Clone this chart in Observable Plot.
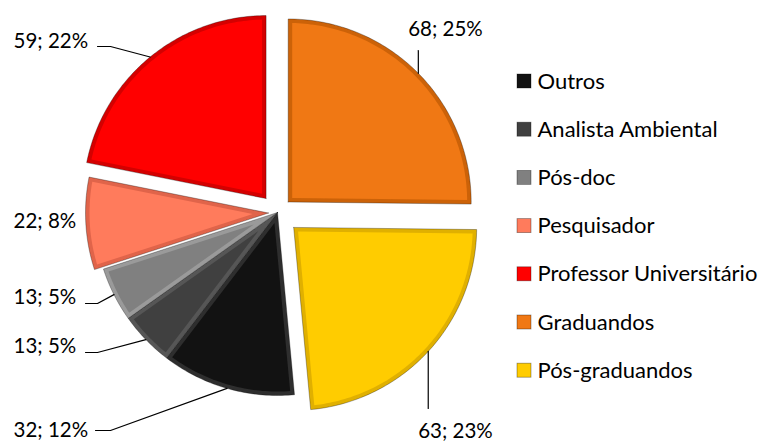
<!DOCTYPE html>
<html><head><meta charset="utf-8">
<script src="https://cdn.jsdelivr.net/npm/d3@7"></script>
<script src="https://cdn.jsdelivr.net/npm/@observablehq/plot@0.6"></script>
<style>body{margin:0;background:#fff;}</style>
</head><body><div id="chart"></div>
<script>
// ---- data ----
const categories = ["Outros","Analista Ambiental","Pós-doc","Pesquisador","Professor Universitário","Graduandos","Pós-graduandos"];
const counts = [32,13,13,22,59,68,63];

// ---- styles ----
const colors = ["#121212","#404040","#808080","#FF7B5C","#FF0000","#F07814","#FFCC00"];
const rimColors = ["#2e2e2e","#565656","#9a9a9a","#E0644A","#D40000","#CC6208","#E0B000"];
const explode = [0,0,0,9,18,15,22];

// ---- layout ----
const W = 763, H = 441, cx = 277, cy = 212, R = 183, bevel = 4;
const labelLayout = {
  "Outros":                 {x:13,  y:430, anchor:"start", leader:[[110,430],[95,430]]},
  "Analista Ambiental":     {x:13,  y:346, anchor:"start", leader:[[97,352],[85,352]]},
  "Pós-doc":                {x:13,  y:297, anchor:"start", leader:[[97,303],[85,303]]},
  "Pesquisador":            {x:13,  y:221, anchor:"start", leader:null},
  "Professor Universitário":{x:13,  y:41,  anchor:"start", leader:[[110,46],[97,46]]},
  "Graduandos":             {x:445, y:29,  anchor:"middle", leader:[["arc",50]]},
  "Pós-graduandos":         {x:455, y:431, anchor:"middle", leader:[["arc",408]]}
};
const legendX = 517, legendY0 = 81, legendStep = 48.2, box = 14;

const total = d3.sum(counts);
// first slice (Outros) starts after the last two slices, which wrap past 12 o'clock
const a0 = (counts[5] + counts[6]) / total * 2 * Math.PI;
const arcs = d3.pie().sort(null).startAngle(a0).endAngle(a0 + 2 * Math.PI)(counts);

const slicePts = [], innerPts = [], leaderPts = [], labels = [];
// wedge: apex (px,py), arc centered at (ox,oy) with radius r from angle s to e
function wedge(out, cat, px, py, ox, oy, r, s, e) {
  out.push({cat, x: px, y: py});
  const n = Math.max(4, Math.ceil((e - s) / (Math.PI / 180)));
  for (let k = 0; k <= n; k++) {
    const t = s + (e - s) * k / n;
    out.push({cat, x: ox + r * Math.sin(t), y: oy - r * Math.cos(t)});
  }
  out.push({cat, x: px, y: py});
}
arcs.forEach((a, i) => {
  const cat = categories[i];
  const m = (a.startAngle + a.endAngle) / 2;
  const half = (a.endAngle - a.startAngle) / 2;
  const ox = cx + explode[i] * Math.sin(m), oy = cy - explode[i] * Math.cos(m);
  wedge(slicePts, cat, ox, oy, ox, oy, R, a.startAngle, a.endAngle);
  // inset wedge (bevel look)
  const ad = bevel / Math.sin(half);
  const ix = ox + ad * Math.sin(m), iy = oy - ad * Math.cos(m);
  const ri = R - bevel;
  const d = Math.asin(bevel / ri);
  wedge(innerPts, cat, ix, iy, ox, oy, ri, a.startAngle + d, a.endAngle - d);
  const ax = ox + R * Math.sin(m), ay = oy - R * Math.cos(m);
  const L = labelLayout[cat];
  if (L.leader) {
    leaderPts.push({cat, x: ax, y: ay});
    L.leader.forEach(p => leaderPts.push({cat, x: p[0] === "arc" ? ax : p[0], y: p[1]}));
  }
  labels.push({cat, x: L.x, y: L.y, anchor: L.anchor,
    text: `${counts[i]}; ${Math.round(counts[i] / total * 100)}%`});
});

const legend = categories.map((c, i) => ({cat: c, i}));
const rimOf = Object.fromEntries(categories.map((c, i) => [c, rimColors[i]]));

const chart = Plot.plot({
  width: W, height: H, margin: 0,
  style: {fontFamily: "Lato, 'Open Sans', sans-serif", background: "#fff"},
  x: {domain: [0, W], range: [0, W], axis: null},
  y: {domain: [0, H], range: [0, H], axis: null},
  color: {domain: categories, range: colors},
  marks: [
    Plot.line(slicePts, {x: "x", y: "y", z: "cat", fill: d => rimOf[d.cat], stroke: "rgba(0,0,0,0.3)", strokeWidth: 1, curve: "linear"}),
    Plot.line(innerPts, {x: "x", y: "y", z: "cat", fill: "cat", stroke: "none", curve: "linear"}),
    Plot.line(leaderPts, {x: "x", y: "y", z: "cat", stroke: "#000", strokeWidth: 1.2}),
    Plot.text(labels.filter(d => d.anchor === "start"), {x: "x", y: "y", text: "text", textAnchor: "start", fontSize: 20.5, fill: "#000"}),
    Plot.text(labels.filter(d => d.anchor === "middle"), {x: "x", y: "y", text: "text", textAnchor: "middle", fontSize: 20.5, fill: "#000"}),
    Plot.rect(legend, {x1: () => legendX, x2: () => legendX + box,
      y1: d => legendY0 + d.i * legendStep - box / 2, y2: d => legendY0 + d.i * legendStep + box / 2,
      fill: "cat", stroke: "rgba(0,0,0,0.4)", strokeWidth: 0.8}),
    Plot.text(legend, {x: () => legendX + box + 6, y: d => legendY0 + d.i * legendStep, text: "cat", textAnchor: "start", fontSize: 22, fill: "#000"})
  ]
});
document.getElementById("chart").appendChild(chart);
</script>
</body></html>
